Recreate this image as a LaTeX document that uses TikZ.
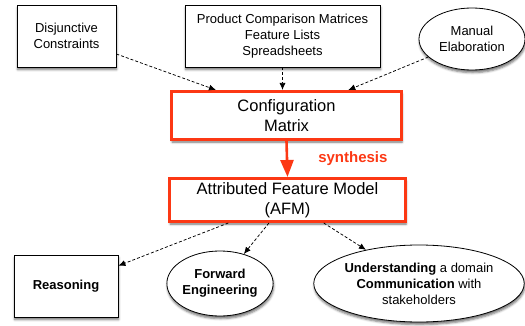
\documentclass[tikz,border=0pt]{standalone}
\usepackage{fontspec}
\setmainfont{Liberation Sans}
\usetikzlibrary{arrows.meta,shapes.geometric,shadows.blur}
\definecolor{hotred}{RGB}{252,56,20}
\begin{document}
\begin{tikzpicture}[x=1pt,y=-1pt,
  shade/.style={blur shadow={shadow xshift=0.6pt,shadow yshift=-2.6pt,shadow blur radius=2.2pt,shadow opacity=55}},
  small/.style={font=\fontsize{13}{16}\selectfont,align=center,inner sep=0pt},
  srcbox/.style={small,draw=black,line width=0.8pt,fill=white,shade},
  srcoval/.style={small,ellipse,draw=black,line width=0.8pt,fill=white,shade},
  keybox/.style={draw=hotred,line width=3pt,fill=white,shade,align=center,inner sep=0pt,
    font=\fontsize{16.5}{20.5}\selectfont},
  feed/.style={dash pattern=on 3pt off 2pt,line width=0.75pt,-{Latex[length=7pt,width=6pt]}}
]
\useasboundingbox (0,0) rectangle (525,326);

% inputs
\node[srcbox,minimum width=99pt,minimum height=62pt] (disj) at (66.5,36) {Disjunctive\\Constraints};
\node[srcbox,minimum width=195pt,minimum height=62pt] (prod) at (282.5,36)
  {Product Comparison Matrices\\Feature Lists\\Spreadsheets};
\node[srcoval,minimum width=106pt,minimum height=62pt] (man) at (472,39) {Manual\\Elaboration};

% central chain
\node[keybox,minimum width=230pt,minimum height=48pt] (conf) at (286.5,115.5) {Configuration\\Matrix};
\node[keybox,minimum width=236pt,minimum height=43pt] (afm) at (287.5,200) {Attributed Feature Model\\(AFM)};

% outputs
\node[srcbox,minimum width=104pt,minimum height=62pt,font=\fontsize{13}{16}\selectfont\bfseries] (reas) at (66,286) {Reasoning};
\node[srcoval,minimum width=100pt,minimum height=65pt,font=\fontsize{13}{16}\selectfont\bfseries] (fwd) at (220,283.5) {Forward\\Engineering};
\node[srcoval,minimum width=208pt,minimum height=77pt] (und) at (419,283.5)
  {\textbf{Understanding} a domain\\\textbf{Communication} with\\stakeholders};

% connectors
\draw[feed] (disj) -- (conf);
\draw[feed] (prod.south) -- (prod.south |- conf.north);
\draw[feed] (man) -- (conf);
\draw[draw=hotred,line width=2.6pt,-{Triangle[length=17pt,width=13pt]}] (conf.south) -- (afm.north)
  node[midway,right=30pt,text=hotred,font=\fontsize{15}{18}\selectfont\bfseries,inner sep=0pt] (syn) {synthesis};
\draw[feed] (afm) -- (reas);
\draw[feed] (afm) -- (fwd);
\draw[feed] (afm) -- (und);
\end{tikzpicture}
\end{document}
